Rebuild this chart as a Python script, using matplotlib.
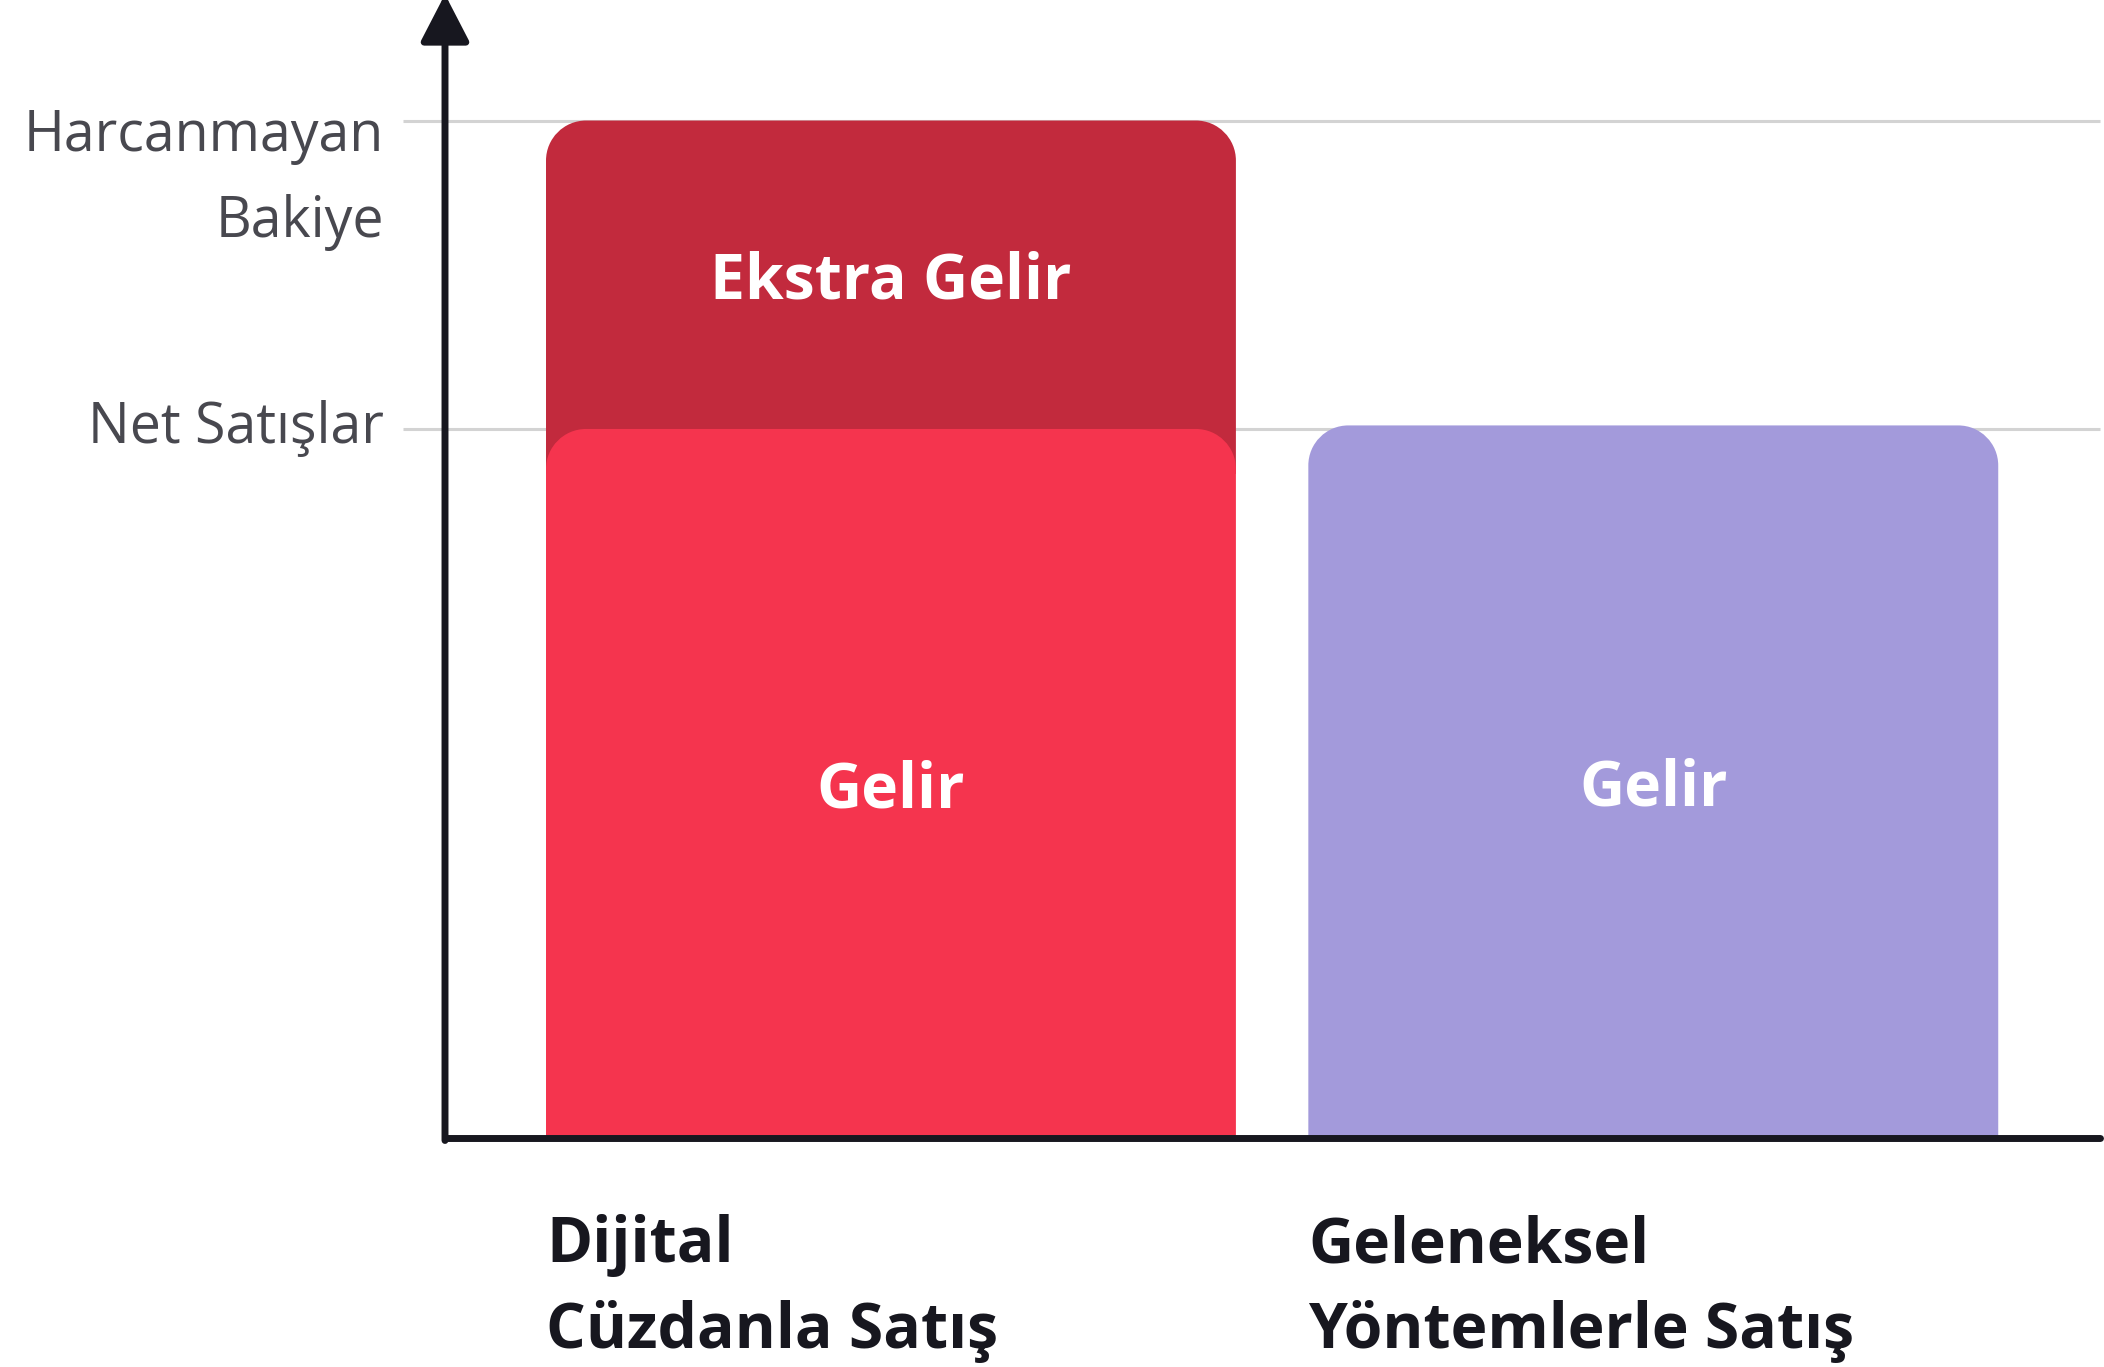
import matplotlib
matplotlib.use("Agg")
import matplotlib.pyplot as plt
from matplotlib.path import Path
from matplotlib.patches import PathPatch

plt.rcParams['font.family'] = ['Open Sans', 'DejaVu Sans']

# data
categories = ['Dijital\nCüzdanla Satış', 'Geleneksel\nYöntemlerle Satış']
gelir = [100, 100.5]
ekstra = [43.5, 0]
ytick_vals = [143.5, 100]
ytick_labels = ['Harcanmayan\nBakiye', 'Net Satışlar']

RED = '#f5344e'
DARK_RED = '#c22a3d'
PURPLE = '#a39adb'
INK = '#17171f'
GREY_TXT = '#48484f'
GRID = '#d3d3d3'

W, H = 2104, 1367
fig = plt.figure(figsize=(W / 100, H / 100), dpi=100)
ax = fig.add_axes([445 / W, (H - 1138) / H, (2100 - 445) / W, 1138 / H])
ax.set_xlim(-0.585, 1.586)
ax.set_ylim(0, 160.5)
ax.axis('off')

bar_w = 0.905
# pixels per data unit
px_x = (2100 - 445) / (1.586 + 0.585)
px_y = 1138 / 160.5


def top_rounded_bar(xc, bottom, top, color, r_px=40, z=2):
    rx, ry = r_px / px_x, r_px / px_y
    x0, x1 = xc - bar_w / 2, xc + bar_w / 2
    k = 0.5523
    verts = [(x0, bottom), (x1, bottom), (x1, top - ry),
             (x1, top - ry + k * ry), (x1 - rx + k * rx, top), (x1 - rx, top),
             (x0 + rx, top),
             (x0 + rx - k * rx, top), (x0, top - ry + k * ry), (x0, top - ry),
             (x0, bottom)]
    codes = [Path.MOVETO, Path.LINETO, Path.LINETO,
             Path.CURVE4, Path.CURVE4, Path.CURVE4,
             Path.LINETO,
             Path.CURVE4, Path.CURVE4, Path.CURVE4,
             Path.CLOSEPOLY]
    ax.add_patch(PathPatch(Path(verts, codes), facecolor=color, edgecolor='none', zorder=z))


# grid lines + y labels
for v, lab in zip(ytick_vals, ytick_labels):
    ax.plot([-0.64, 1.586], [v, v], color=GRID, lw=2.2, zorder=1, clip_on=False,
            solid_capstyle='butt')
    if '\n' in lab:
        ax.annotate(lab, xy=(-0.585, v), xytext=(-44, 9), textcoords='offset points',
                    ha='right', va='top', fontsize=40, color=GREY_TXT,
                    linespacing=1.68, annotation_clip=False)
    else:
        ax.annotate(lab, xy=(-0.585, v), xytext=(-44, 0), textcoords='offset points',
                    ha='right', va='center', fontsize=40, color=GREY_TXT,
                    annotation_clip=False)

# bars
colors = [RED, PURPLE]
for i, cat in enumerate(categories):
    if ekstra[i] > 0:
        overlap = 45 / px_y
        top_rounded_bar(i, gelir[i] - overlap, gelir[i] + ekstra[i], DARK_RED, z=2)
        ax.text(i, gelir[i] + ekstra[i] / 2, 'Ekstra Gelir', ha='center', va='center_baseline',
                fontsize=45, fontweight='bold', color='white', zorder=5)
    top_rounded_bar(i, 0, gelir[i], colors[i], z=3)
    ax.text(i, gelir[i] / 2, 'Gelir', ha='center', va='center_baseline',
            fontsize=45, fontweight='bold', color='white', zorder=5)
    ax.annotate(cat, xy=(i - bar_w / 2, 0), xytext=(0, -55), textcoords='offset points',
                ha='left', va='top', fontsize=45, fontweight='bold', color=INK,
                linespacing=1.48, annotation_clip=False)

# axes lines
ax.plot([-0.585, 1.586], [0, 0], color=INK, lw=5, solid_capstyle='round',
        zorder=6, clip_on=False)
ax.annotate('', xy=(-0.585, 161.3), xytext=(-0.585, -0.35),
            arrowprops=dict(arrowstyle='-|>,head_length=1.45,head_width=0.75',
                            mutation_scale=20, lw=5, color=INK,
                            shrinkA=0, shrinkB=0),
            annotation_clip=False, zorder=6)

fig.savefig('out.png', dpi=100, facecolor='white')
